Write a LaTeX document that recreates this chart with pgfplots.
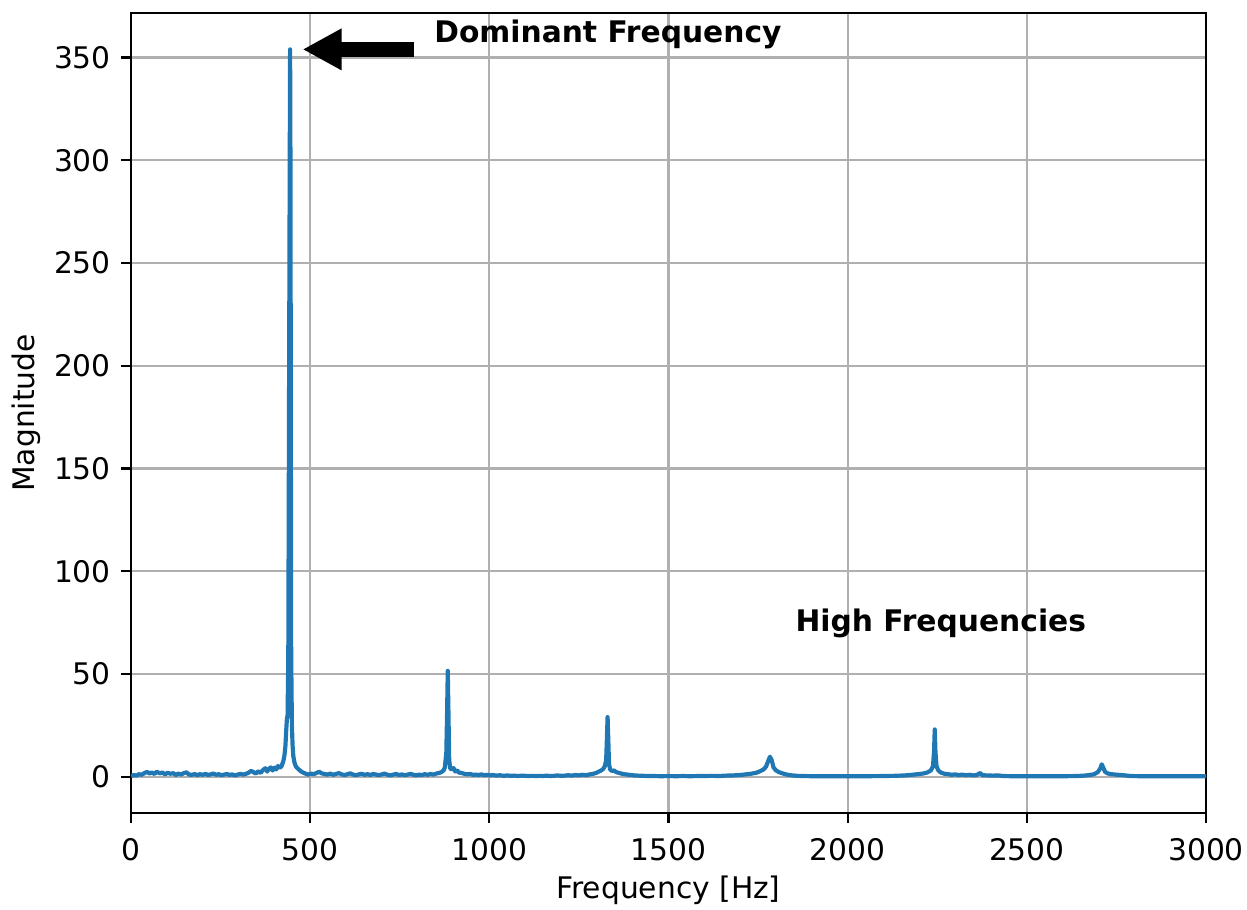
\documentclass[border=0pt]{standalone}
\usepackage{fontspec}
\setmainfont{DejaVu Sans}
\usepackage{pgfplots}
\pgfplotsset{compat=1.18}
\usetikzlibrary{arrows.meta}
\definecolor{mplblue}{HTML}{1F77B4}
\definecolor{gridgray}{HTML}{B0B0B0}
\newcommand{\mplfont}{\fontsize{10.7}{12.8}\selectfont}
\begin{document}
\mplfont
\begin{tikzpicture}
\begin{axis}[
  scale only axis,
  width=387pt, height=288pt,
  xmin=0, xmax=3000,
  ymin=-17.7, ymax=371.7,
  xtick={0,500,...,3000},
  ytick={0,50,...,350},
  grid=major,
  major grid style={line width=0.8pt, color=gridgray},
  axis line style={line width=0.8pt},
  tick style={line width=0.8pt, color=black},
  tick align=outside,
  major tick length=3.5pt,
  xtick pos=bottom, ytick pos=left,
  /pgf/number format/assume math mode=true,
  /pgf/number format/1000 sep={},
  ticklabel style={font=\mplfont},
  xticklabel style={yshift=-2pt},
  label style={font=\mplfont},
  xlabel={Frequency [Hz]},
  ylabel={Magnitude},
  xlabel style={at={(axis description cs:0.5,0)}, anchor=base, yshift=-30.7pt},
  ylabel style={at={(axis description cs:-0.0899,0.5)}, anchor=base, rotate=0},
  clip=true,
]
\addplot[mplblue, line width=1.5pt, line join=round] coordinates {
(0,0.3) (8,0.8) (15,0.5) (22,1.2) (30,0.9) (38,1.8) (45,2.3) (52,1.5) (58,2.0) (65,1.3) (72,2.4) (80,1.6) (88,2.0) (95,1.1) (102,1.9) (110,1.4) (118,1.7) (125,0.8) (132,1.5) (140,1.0) (148,1.8) (155,2.1) (162,1.0) (170,0.9) (178,1.3) (185,0.7) (192,1.2) (200,0.9) (208,1.4) (215,0.8) (222,1.1) (230,1.5) (238,0.9) (245,1.2) (252,0.7) (260,1.0) (268,1.3) (275,0.8) (282,1.1) (290,0.6) (298,1.0) (305,1.4) (312,1.0) (320,1.3) (328,1.9) (335,2.8) (342,2.2) (348,1.5) (355,2.6) (362,1.8) (368,3.2) (375,4.1) (380,2.5) (385,3.8) (390,4.5) (395,3.0) (400,4.4) (405,3.5) (410,5.2) (415,4.3) (420,5.0) (425,7.5) (428,10) (431,15) (433,22) (435,28) (437,30) (439,60) (441,180) (443,300) (444,354) (445,300) (446,180) (447,60) (449,25) (451,15) (453,10) (456,7) (460,5) (465,4) (470,3.2) (475,2.5) (480,2.0) (488,1.4) (495,1.0) (502,1.5) (510,1.2) (518,1.8) (525,2.4) (532,1.6) (540,1.3)
(548,1.0) (556,1.5) (564,0.9) (572,1.3) (580,1.7) (588,1.1) (596,0.8) (604,1.2) (612,1.6) (620,1.0) (628,0.7) (636,1.1) (644,1.4) (652,0.9) (660,1.2) (668,0.8) (676,1.3) (684,1.0) (692,0.7) (700,1.1) (708,1.5) (716,0.9) (724,0.6) (732,1.0) (740,1.3) (748,0.8) (756,1.1) (764,0.7) (772,1.0) (780,1.4) (788,0.9) (796,0.6) (804,1.0) (812,0.8) (820,1.2) (828,0.9) (836,1.3) (844,1.0) (852,1.5) (860,1.8) (866,2.2) (872,3.0) (876,4.5) (880,12) (882,30) (884,51.5) (886,30) (888,8) (891,4.0) (895,3.5) (900,4.2) (905,2.5) (910,3.1) (915,2.0) (922,1.8) (930,1.4) (938,1.1) (946,1.3) (954,0.9) (962,1.0) (970,0.8) (978,1.1) (986,0.7) (994,0.9) (1002,0.6) (1010,0.8) (1020,0.5) (1030,0.7) (1040,0.4) (1050,0.6) (1060,0.4) (1070,0.5) (1080,0.3) (1090,0.5) (1100,0.4) (1110,0.3) (1120,0.4) (1130,0.3) (1140,0.4) (1150,0.3) (1160,0.5) (1170,0.3) (1180,0.4) (1190,0.6) (1200,0.4) (1210,0.5) (1220,0.7) (1230,0.5) (1240,0.8) (1250,0.6) (1260,0.9) (1270,0.7) (1280,1.1) (1290,1.4) (1298,1.8) (1305,2.4) (1312,3.0) (1318,3.8) (1322,5.0) (1326,8) (1328,18) (1330,29) (1332,18) (1334,6) (1337,3.5) (1342,2.8) (1348,3.0) (1354,2.2) (1360,1.9) (1368,1.5) (1376,1.2) (1385,1.0) (1395,0.8) (1405,0.6) (1415,0.5) (1430,0.4) (1445,0.3) (1460,0.3) (1480,0.2) (1500,0.3) (1520,0.2) (1540,0.3) (1560,0.2) (1580,0.3) (1600,0.3) (1620,0.4) (1640,0.3) (1660,0.5) (1680,0.6) (1700,0.8) (1715,1.1) (1730,1.4) (1745,1.9) (1755,2.6) (1765,3.5) (1772,4.8) (1778,7.5) (1783,9.7) (1788,8.0) (1793,4.5) (1800,3.0) (1808,2.2) (1818,1.6) (1830,1.0) (1845,0.6) (1860,0.4) (1880,0.3) (1900,0.2) (1950,0.2) (2000,0.2) (2050,0.2) (2100,0.3) (2130,0.4) (2160,0.6) (2180,0.9) (2195,1.2) (2210,1.5) (2222,2.0) (2232,3.0) (2238,5) (2241,12) (2243,23) (2245,12) (2248,5) (2253,3.0) (2260,2.0) (2270,1.4) (2280,1.2) (2290,0.9) (2300,1.1) (2310,0.8) (2320,1.0) (2330,0.7) (2340,0.9) (2350,0.6) (2360,0.8) (2370,1.8) (2376,0.7) (2390,0.6) (2405,0.5) (2420,0.6) (2435,0.3) (2460,0.2) (2500,0.2) (2550,0.2) (2600,0.2) (2640,0.3) (2660,0.5) (2675,0.8) (2688,1.2) (2698,2.2) (2705,4.0) (2709,6.0) (2713,4.5) (2718,2.4) (2725,1.6) (2735,1.2) (2748,1.0) (2762,0.8) (2775,0.6) (2790,0.3) (2820,0.2) (2900,0.2) (3000,0.2)
};
\draw[line width=5.2pt, -{Triangle[width=14pt,length=14pt]}] (axis cs:790,354) -- (axis cs:479,354);
\node[anchor=base west, font=\mplfont\bfseries, inner sep=0pt] at (axis cs:845,357.5) {Dominant Frequency};
\node[anchor=base west, font=\mplfont\bfseries, inner sep=0pt] at (axis cs:1853,70.6) {High Frequencies};
\end{axis}
\pgfresetboundingbox
\path ([shift={(-47.16pt,-34.56pt)}]current axis.south west) rectangle ([shift={(14.76pt,4.68pt)}]current axis.north east);
\end{tikzpicture}
\end{document}
